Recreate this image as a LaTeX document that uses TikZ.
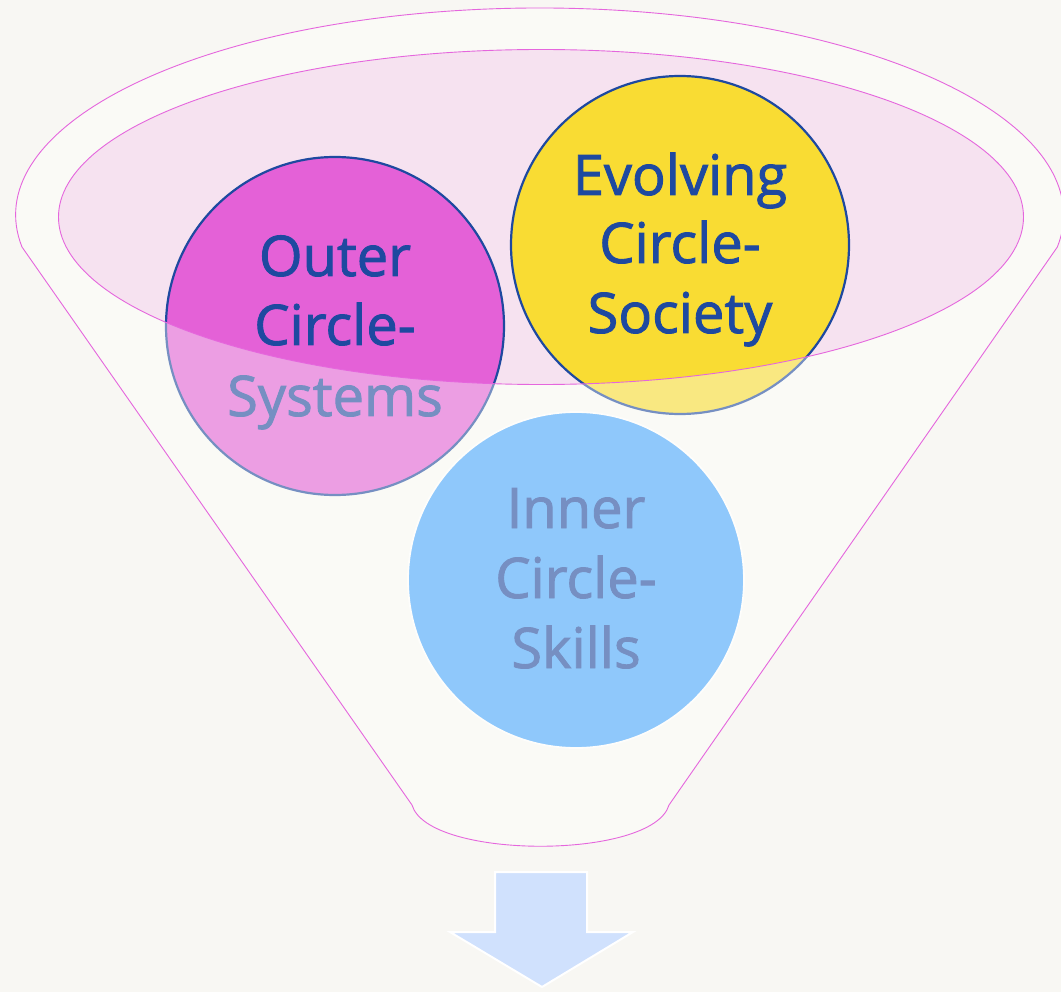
\documentclass[tikz,border=0pt]{standalone}
\usepackage{fontspec}
\setmainfont{Open Sans}
\newfontfamily\roundface{Open Sans}[FakeBold=1.6]
\definecolor{bgc}{HTML}{F8F7F3}
\definecolor{funnelc}{HTML}{FAFAF6}
\definecolor{rimline}{HTML}{E566DD}
\definecolor{openc}{HTML}{F6E2F0}
\definecolor{pinkc}{HTML}{E461D7}
\definecolor{yellowc}{HTML}{F9DC33}
\definecolor{navyc}{HTML}{1E49A0}
\definecolor{bluec}{HTML}{48A7FF}
\definecolor{arrowc}{HTML}{D0E1FD}
\begin{document}
\begin{tikzpicture}[x=1pt,y=-1pt,
  rim/.style={draw=rimline, line width=0.9pt},
  bubble/.style={circle, minimum size=338pt, inner sep=0pt, draw=navyc, line width=2.2pt},
  lbl/.style={anchor=base, text=navyc, font=\roundface\fontsize{56}{70}\selectfont, inner sep=0pt}]
\useasboundingbox[fill=bgc] (0,0) rectangle (1061,992);
% funnel body
\path[fill=funnelc] (22,247) arc[start angle=188.9, end angle=-8.9, x radius=524pt, y radius=207pt]
  -- (669,805) .. controls (653,860) and (428,860) .. (412,805) -- cycle;
% opening
\path[fill=openc] (541,217) ellipse [x radius=482.5pt, y radius=167.5pt];
% circles
\node[bubble, fill=pinkc] (outer) at (335,326) {};
\node[bubble, fill=yellowc] (evolv) at (680,245) {};
\node[bubble, fill=bluec, draw=white, line width=1.8pt, minimum size=336pt] (inner) at (576,580) {};
% labels
\node[lbl] (o1) at (335,276) {Outer};
\node[lbl] (o2) at (335,345) {Circle-};
\node[lbl] (o3) at (335,416) {Systems};
\node[lbl] (e1) at (680,195) {Evolving};
\node[lbl] (e2) at (680,263) {Circle-};
\node[lbl] (e3) at (680,333) {Society};
\node[lbl] (i1) at (576,528) {Inner};
\node[lbl] (i2) at (576,598) {Circle-};
\node[lbl] (i3) at (576,668) {Skills};
% front surface of funnel (veil)
\path[fill=funnelc, fill opacity=0.4, even odd rule]
  (22,247) arc[start angle=188.9, end angle=-8.9, x radius=524pt, y radius=207pt]
  -- (669,805) .. controls (653,860) and (428,860) .. (412,805) -- cycle
  (541,217) ellipse [x radius=482.5pt, y radius=167.5pt];
% outlines
\draw[rim] (22,247) arc[start angle=188.9, end angle=-8.9, x radius=524pt, y radius=207pt]
  -- (669,805) .. controls (653,860) and (428,860) .. (412,805) -- cycle;
\draw[rim] (541,217) ellipse [x radius=482.5pt, y radius=167.5pt];
% arrow
\node[coordinate] (tip) at (542,987) {};
\draw[fill=arrowc, draw=white, line width=2pt]
  (495,872) -- (587,872) -- (587,932) -- (633,932) -- (tip) -- (450,932) -- (495,932) -- cycle;
\end{tikzpicture}
\end{document}
